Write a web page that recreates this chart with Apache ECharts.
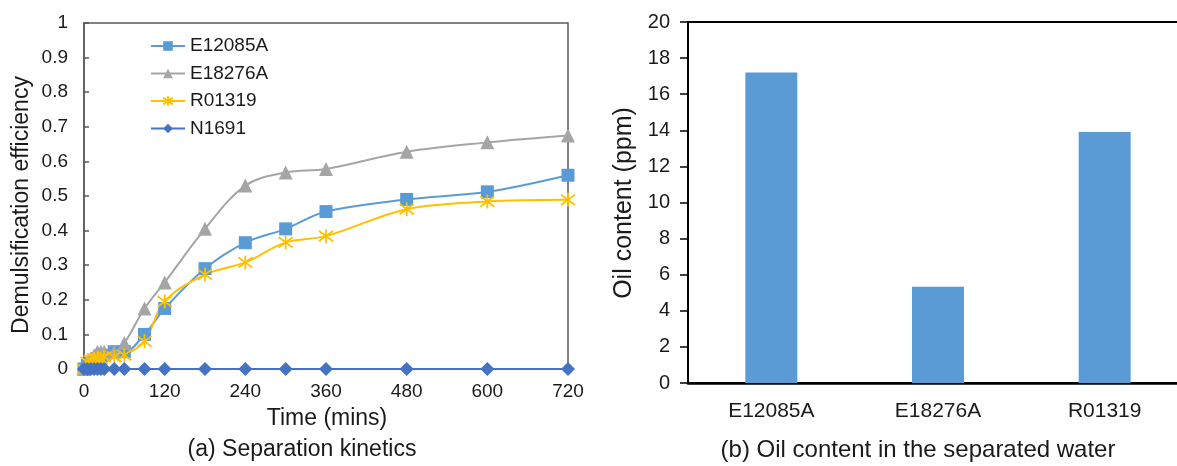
<!DOCTYPE html>
<html>
<head>
<meta charset="utf-8">
<script src="https://cdn.jsdelivr.net/npm/echarts@6/dist/echarts.min.js"></script>
<style>
html,body{margin:0;padding:0;background:#fff;}
#chart{width:1177px;height:466px;}
</style>
</head>
<body>
<div id="chart"></div>
<script>
// ---- data ----
const times = [0, 5, 10, 15, 20, 25, 30, 45, 60, 90, 120, 180, 240, 300, 360, 480, 600, 720];
const e12085a = [0, 0.01, 0.02, 0.02, 0.03, 0.03, 0.04, 0.05, 0.05, 0.10, 0.175, 0.29, 0.365, 0.405, 0.455, 0.49, 0.512, 0.56];
const e18276a = [0, 0.02, 0.03, 0.04, 0.05, 0.05, 0.05, 0.05, 0.075, 0.175, 0.25, 0.405, 0.53, 0.568, 0.578, 0.628, 0.655, 0.675];
const r01319 = [0, 0.02, 0.025, 0.03, 0.03, 0.03, 0.035, 0.035, 0.04, 0.08, 0.195, 0.273, 0.308, 0.366, 0.384, 0.462, 0.484, 0.489];
const n1691 = [0, 0, 0, 0, 0, 0, 0, 0, 0, 0, 0, 0, 0, 0, 0, 0, 0, 0];
const seriesNames = ['E12085A', 'E18276A', 'R01319', 'N1691'];
const products = ['E12085A', 'E18276A', 'R01319'];
const oilContent = [17.2, 5.33, 13.9];

const pairs = v => times.map((t, i) => [t, v[i]]);
const FONT = 'Liberation Sans, Arial, sans-serif';
const TXT = '#1a1a1a';
const STAR = 'path://M-1,-1L1,1M1,-1L-1,1M0,-1.35L0,1.35';

const chart = echarts.init(document.getElementById('chart'), null, {renderer: 'canvas'});

function lineSeries(name, data, color, symbol, size, extra) {
  return Object.assign({
    name: name, type: 'line', xAxisIndex: 0, yAxisIndex: 0,
    data: pairs(data), smooth: 0.35, symbol: symbol, symbolSize: size,
    showAllSymbol: true,
    lineStyle: {color: color, width: 2},
    itemStyle: {color: color},
    emphasis: {disabled: true}
  }, extra || {});
}

chart.setOption({
  animation: false,
  textStyle: {fontFamily: FONT},
  grid: [
    {left: 84, top: 23, width: 484, height: 346, show: true, borderColor: '#595959', borderWidth: 1.5,
     backgroundColor: 'transparent', outerBoundsMode: 'none', containLabel: false},
    {left: 688, top: 22, width: 500, height: 361, show: true, borderColor: '#000', borderWidth: 2,
     backgroundColor: 'transparent', outerBoundsMode: 'none', containLabel: false}
  ],
  legend: {
    data: seriesNames, orient: 'vertical', left: 145, top: 31,
    itemWidth: 34, itemHeight: 12, itemGap: 7.5,
    textStyle: {fontSize: 19, color: TXT, fontFamily: FONT, lineHeight: 20},
    selectedMode: false
  },
  xAxis: [
    {type: 'value', gridIndex: 0, min: 0, max: 720, interval: 120,
     axisLine: {show: true, onZero: false, lineStyle: {color: '#595959', width: 1.5}},
     axisTick: {show: false}, splitLine: {show: false},
     axisLabel: {fontSize: 19, color: TXT, margin: 13, fontFamily: FONT}},
    {type: 'category', gridIndex: 1, data: products,
     axisLine: {show: true, lineStyle: {color: '#000', width: 2.5}},
     axisTick: {show: false},
     axisLabel: {fontSize: 21, color: TXT, margin: 18, fontFamily: FONT}}
  ],
  yAxis: [
    {type: 'value', gridIndex: 0, min: 0, max: 1, interval: 0.1,
     axisLine: {show: true, lineStyle: {color: '#595959', width: 1.5}},
     axisTick: {show: true, inside: true, length: 5, lineStyle: {color: '#595959', width: 1.5}},
     splitLine: {show: false},
     axisLabel: {fontSize: 19, color: TXT, margin: 16, fontFamily: FONT,
       formatter: v => String(Math.round(v * 10) / 10)}},
    {type: 'value', gridIndex: 1, min: 0, max: 20, interval: 2,
     axisLine: {show: true, lineStyle: {color: '#000', width: 2}},
     axisTick: {show: true, inside: false, length: 8, lineStyle: {color: '#000', width: 1.5}},
     splitLine: {show: false},
     axisLabel: {fontSize: 20, color: TXT, margin: 18, fontFamily: FONT}}
  ],
  series: [
    lineSeries('E12085A', e12085a, '#5B9BD5', 'rect', 13),
    lineSeries('E18276A', e18276a, '#A5A5A5', 'triangle', 14),
    lineSeries('R01319', r01319, '#FFC000', STAR, 14,
      {itemStyle: {color: '#FFC000', borderColor: '#FFC000', borderWidth: 1.8}}),
    lineSeries('N1691', n1691, '#4472C4', 'diamond', 14),
    {name: 'Oil content', type: 'bar', xAxisIndex: 1, yAxisIndex: 1,
     data: oilContent, barWidth: 52, itemStyle: {color: '#5B9BD5'},
     emphasis: {disabled: true}}
  ],
  graphic: [
    {type: 'text', x: 22, y: 205, rotation: Math.PI / 2,
     style: {text: 'Demulsification efficiency', font: '23px ' + FONT, fill: TXT, align: 'center', verticalAlign: 'middle'}},
    {type: 'text', x: 327, y: 419,
     style: {text: 'Time (mins)', font: '23px ' + FONT, fill: TXT, align: 'center', verticalAlign: 'middle'}},
    {type: 'text', x: 302, y: 450,
     style: {text: '(a) Separation kinetics', font: '23px ' + FONT, fill: TXT, align: 'center', verticalAlign: 'middle'}},
    {type: 'text', x: 624, y: 203, rotation: Math.PI / 2,
     style: {text: 'Oil content (ppm)', font: '25px ' + FONT, fill: TXT, align: 'center', verticalAlign: 'middle'}},
    {type: 'text', x: 918, y: 450,
     style: {text: '(b) Oil content in the separated water', font: '24px ' + FONT, fill: TXT, align: 'center', verticalAlign: 'middle'}}
  ]
});
</script>
</body>
</html>
